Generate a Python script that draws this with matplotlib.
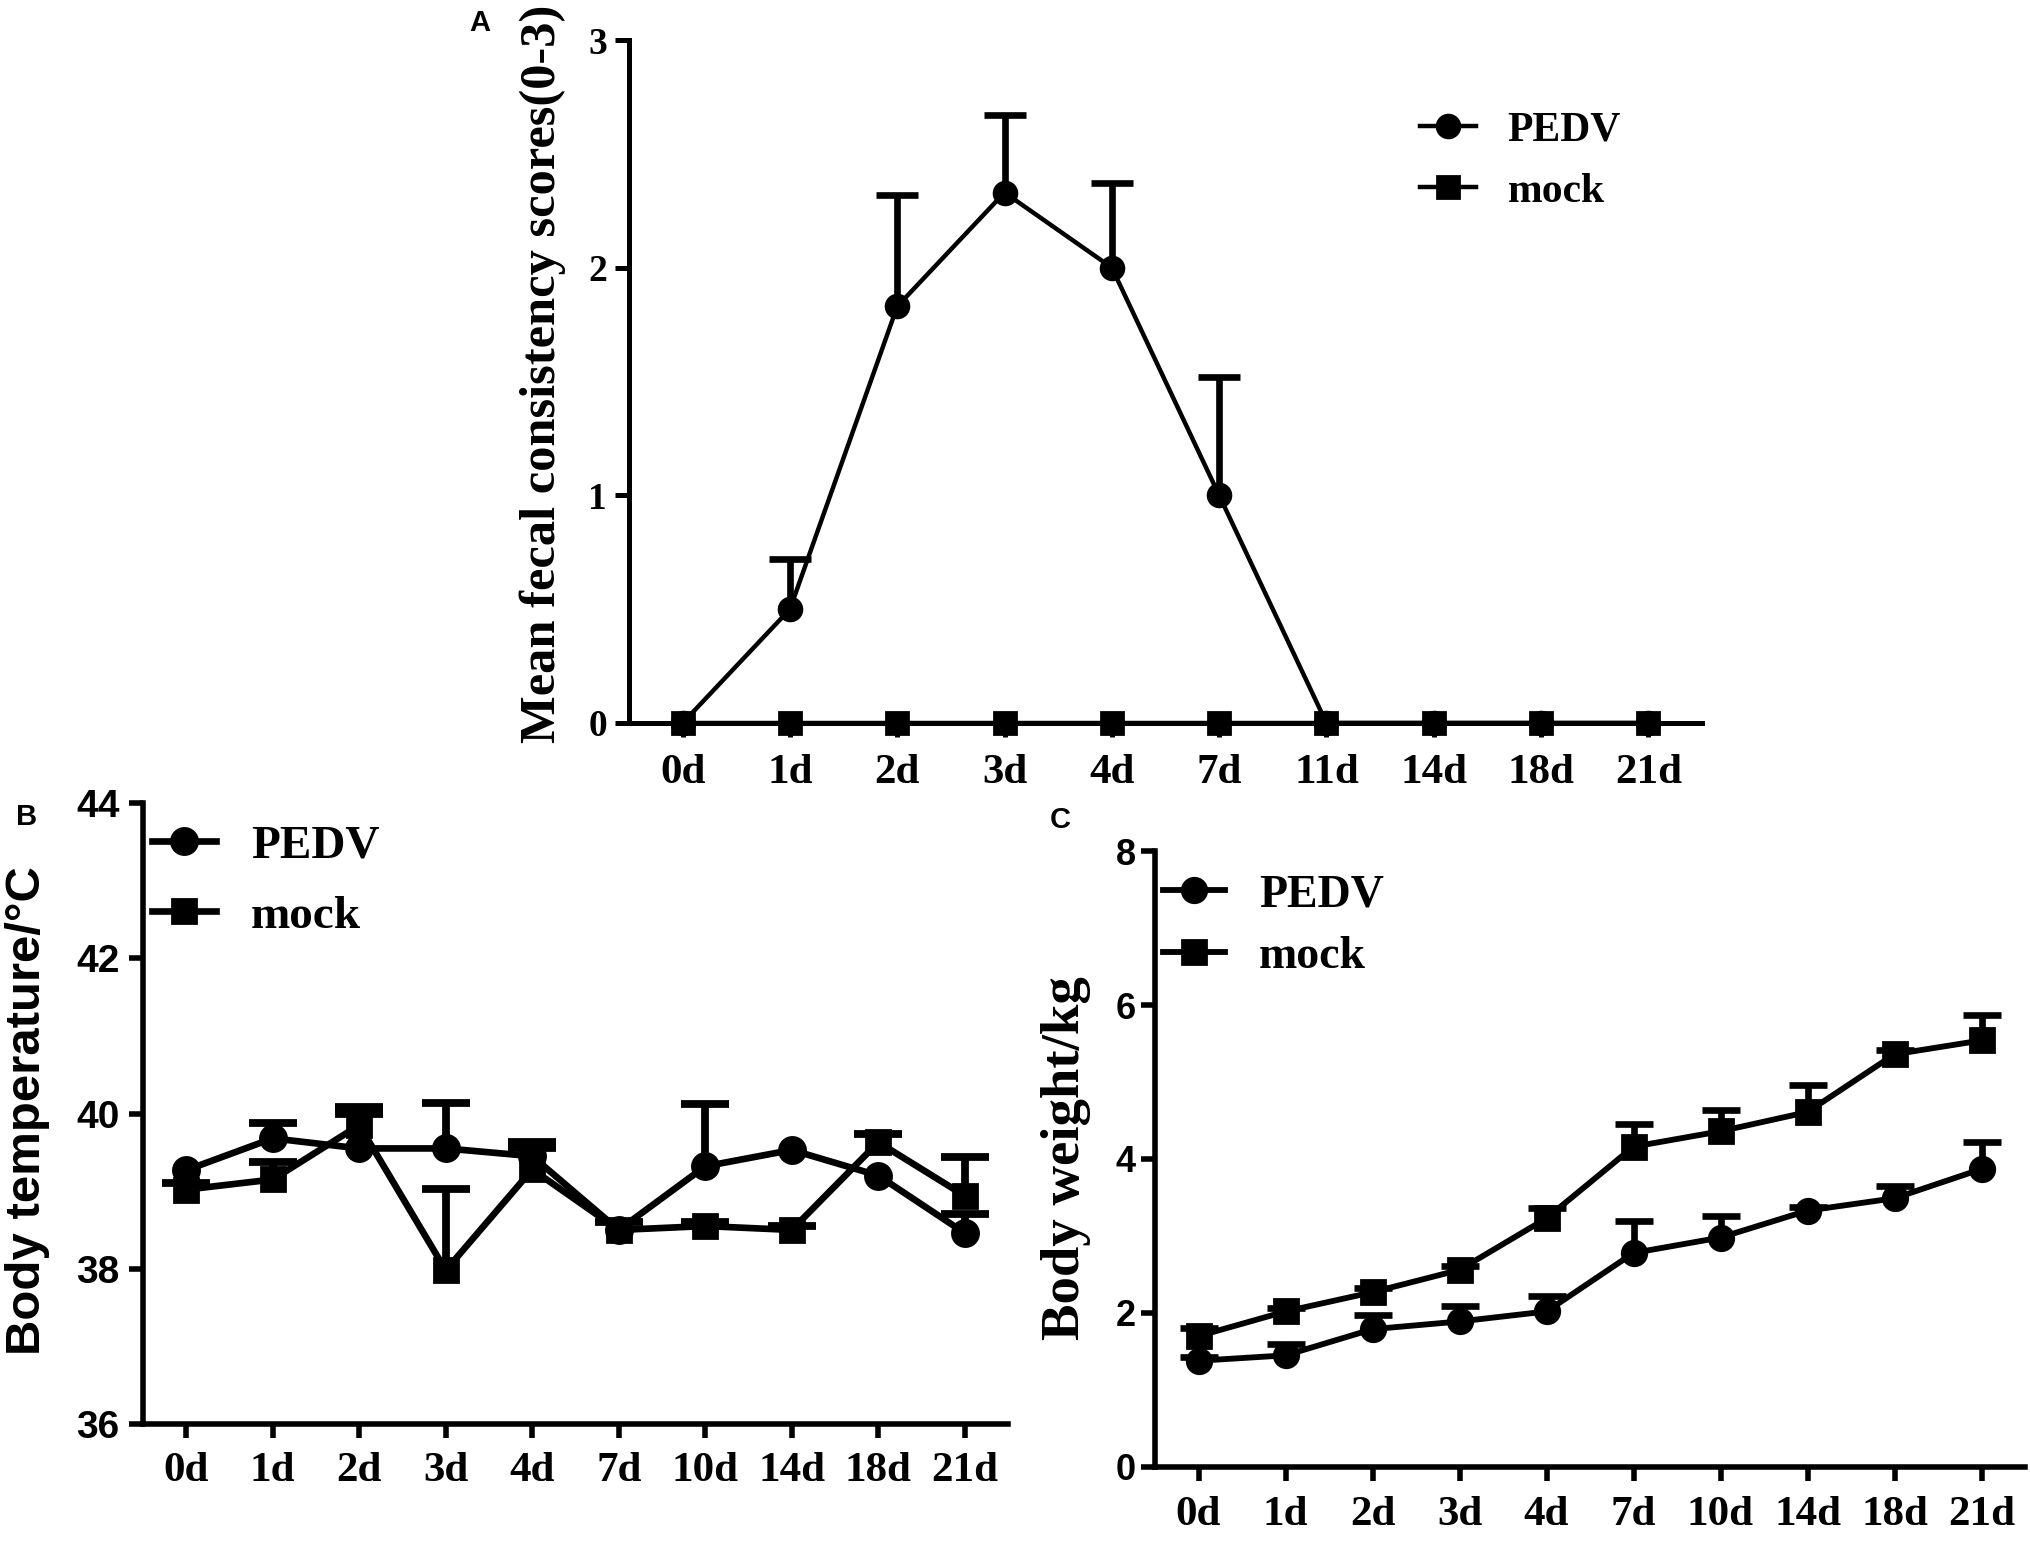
import matplotlib
matplotlib.use('Agg')
import matplotlib.pyplot as plt
import numpy as np

# days
days_a = ['0d', '1d', '2d', '3d', '4d', '7d', '11d', '14d', '18d', '21d']
days_bc = ['0d', '1d', '2d', '3d', '4d', '7d', '10d', '14d', '18d', '21d']

# A: fecal consistency scores
fecal_pedv = [0, 0.5, 1.83, 2.33, 2.0, 1.0, 0, 0, 0, 0]
fecal_pedv_err = [0, 0.22, 0.49, 0.34, 0.37, 0.52, 0, 0, 0, 0]
fecal_mock = [0, 0, 0, 0, 0, 0, 0, 0, 0, 0]

# B: body temperature
temp_pedv = [39.27, 39.68, 39.55, 39.55, 39.45, 38.5, 39.32, 39.53, 39.2, 38.46]
temp_pedv_err = [0, 0.2, 0.45, 0.58, 0.1, 0, 0.8, 0, 0, 0.24]
temp_mock = [39.02, 39.15, 39.85, 37.98, 39.28, 38.5, 38.55, 38.5, 39.63, 38.94]
temp_mock_err = [0.08, 0.22, 0.23, 1.05, 0.35, 0.1, 0.05, 0.05, 0.1, 0.5]

# C: body weight
wt_pedv = [1.38, 1.45, 1.79, 1.89, 2.02, 2.78, 2.98, 3.33, 3.49, 3.87]
wt_pedv_err = [0.05, 0.15, 0.19, 0.2, 0.2, 0.42, 0.28, 0.05, 0.16, 0.35]
wt_mock = [1.70, 2.02, 2.27, 2.56, 3.23, 4.16, 4.36, 4.61, 5.36, 5.54]
wt_mock_err = [0.1, 0.05, 0.05, 0.05, 0.13, 0.29, 0.28, 0.35, 0.05, 0.33]

SERIF = 'Liberation Serif'
SANS = 'Liberation Sans'

W, H = 2031, 1541
fig = plt.figure(figsize=(W / 200, H / 200), dpi=200)


def px_axes(x0, y0, x1, y1):
    # pixel box (top-left origin) -> figure axes
    return fig.add_axes([x0 / W, 1 - y1 / H, (x1 - x0) / W, (y1 - y0) / H])


def upper_err(ax, x, y, err, elw, cap):
    # only the upper half of the error bar, like the original figure
    x = np.asarray(x)
    y = np.asarray(y, dtype=float)
    err = np.asarray(err, dtype=float)
    keep = err > 0
    if not keep.any():
        return
    zeros = np.zeros(keep.sum())
    _, caps, _ = ax.errorbar(x[keep], y[keep], yerr=[zeros, err[keep]], fmt='none',
                             ecolor='black', elinewidth=elw, capsize=cap, capthick=elw,
                             zorder=2, clip_on=False)
    caps[0].set_visible(False)


def draw_panel(ax, cats, pedv, pedv_err, mock, mock_err, ylim, yticks, ytick_font,
               ylabel, ylabel_font, ylabel_size, ylabel_xy, lw, ms, elw, cap, spw,
               ytick_size, xtick_size, ypad, xpad, legend_xy, leg_size, leg_space):
    x = np.arange(len(cats))
    if pedv_err is not None:
        upper_err(ax, x, pedv, pedv_err, elw, cap)
    if mock_err is not None:
        upper_err(ax, x, mock, mock_err, elw, cap)
    h1, = ax.plot(x, pedv, color='black', lw=lw, marker='o', ms=ms, zorder=3, clip_on=False)
    h2, = ax.plot(x, mock, color='black', lw=lw, marker='s', ms=ms * 0.95, zorder=3, clip_on=False)

    ax.set_xlim(-0.5, 9.5)
    ax.set_ylim(*ylim)
    ax.set_yticks(yticks)
    ax.set_yticklabels([str(v) for v in yticks], fontfamily=ytick_font,
                       fontweight='bold', fontsize=ytick_size)
    ax.set_xticks(x)
    ax.set_xticklabels(cats, fontfamily=SERIF, fontweight='bold', fontsize=xtick_size)
    for s in ['top', 'right']:
        ax.spines[s].set_visible(False)
    for s in ['left', 'bottom']:
        ax.spines[s].set_linewidth(spw)
    ax.tick_params(axis='both', direction='out', length=5, width=spw, color='black')
    ax.tick_params(axis='y', pad=ypad)
    ax.tick_params(axis='x', pad=xpad)

    ax.set_ylabel(ylabel, fontfamily=ylabel_font, fontweight='bold', fontsize=ylabel_size)
    ax.yaxis.label.set(ha='center', va='center', rotation_mode='default')
    # label centre in figure pixels -> axes coords
    inv = ax.transAxes.inverted()
    lx, ly = inv.transform(fig.transFigure.transform((ylabel_xy[0] / W, 1 - ylabel_xy[1] / H)))
    ax.yaxis.set_label_coords(lx, ly)

    ax.legend([h1, h2], ['PEDV', 'mock'], loc='upper left',
              bbox_to_anchor=(legend_xy[0] / W, 1 - legend_xy[1] / H),
              bbox_transform=fig.transFigure, frameon=False, borderpad=0,
              borderaxespad=0, handlelength=1.35, handletextpad=0.75,
              labelspacing=leg_space,
              prop={'family': SERIF, 'weight': 'bold', 'size': leg_size})


# panel A
ax_a = px_axes(629, 40, 1702, 723)
draw_panel(ax_a, days_a, fecal_pedv, fecal_pedv_err, fecal_mock, None,
           (0, 3), [0, 1, 2, 3], SERIF,
           'Mean fecal consistency scores(0-3)', SERIF, 18.2, (543, 374),
           lw=1.6, ms=8.2, elw=2.4, cap=7.5, spw=1.8,
           ytick_size=13.5, xtick_size=15.5, ypad=3, xpad=6,
           legend_xy=(1420, 111), leg_size=15, leg_space=0.56)

# panel B
ax_b = px_axes(143, 803, 1008, 1424)
draw_panel(ax_b, days_bc, temp_pedv, temp_pedv_err, temp_mock, temp_mock_err,
           (36, 44), [36, 38, 40, 42, 44], SANS,
           'Body temperature/°C', SANS, 17.7, (28, 1111),
           lw=2.4, ms=9.4, elw=2.8, cap=8.6, spw=2.0,
           ytick_size=14, xtick_size=15.5, ypad=3.5, xpad=5,
           legend_xy=(152, 824), leg_size=17, leg_space=0.58)

# panel C
ax_c = px_axes(1155, 851, 2025, 1467)
draw_panel(ax_c, days_bc, wt_pedv, wt_pedv_err, wt_mock, wt_mock_err,
           (0, 8), [0, 2, 4, 6, 8], SANS,
           'Body weight/kg', SERIF, 19.7, (1066, 1158),
           lw=2.1, ms=8.8, elw=2.4, cap=7.0, spw=2.0,
           ytick_size=13, xtick_size=15.5, ypad=2, xpad=5.5,
           legend_xy=(1163, 874), leg_size=16.5, leg_space=0.43)

# panel letters
for letter, (px, py) in zip(['A', 'B', 'C'], [(480, 23), (27, 817), (1060, 820)]):
    fig.text(px / W, 1 - py / H, letter, fontfamily=SANS, fontweight='bold',
             fontsize=10.5, ha='center', va='center')

fig.savefig('out.png', dpi=200)
